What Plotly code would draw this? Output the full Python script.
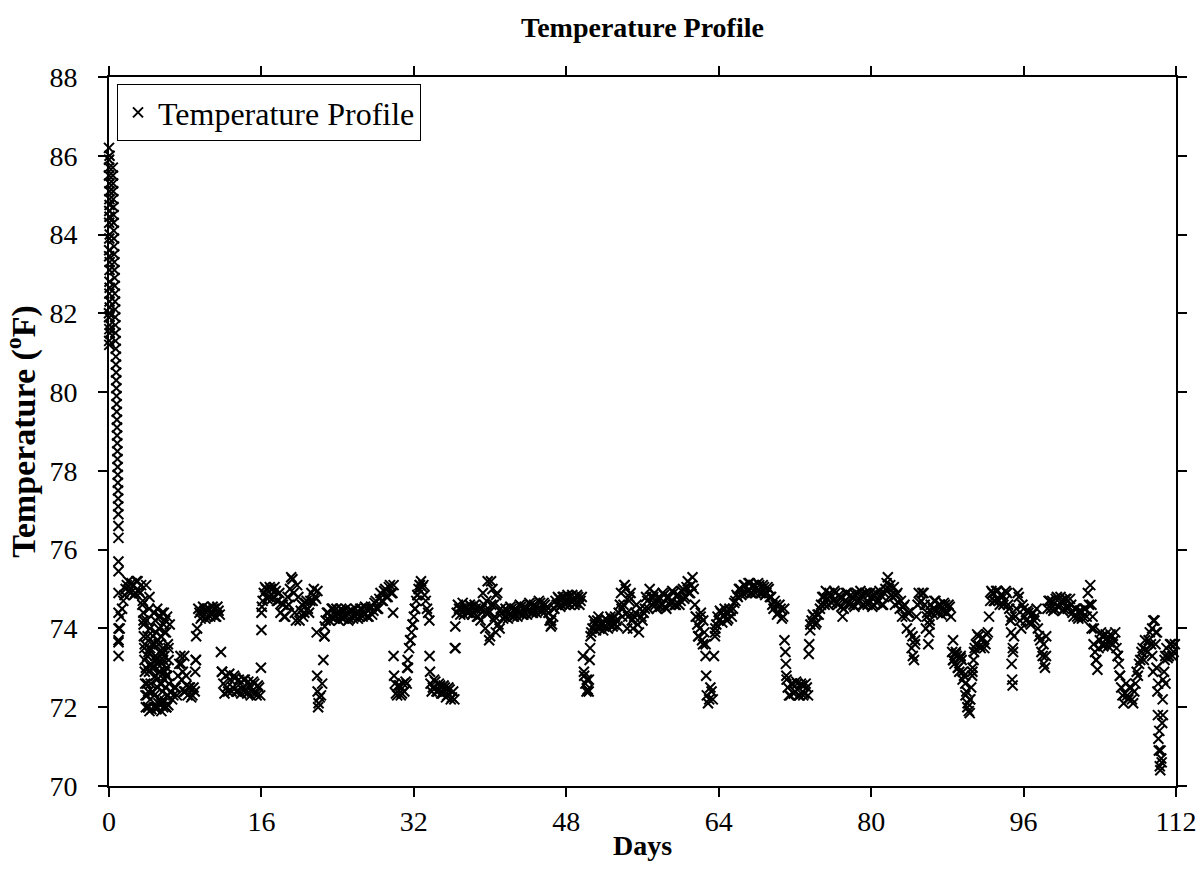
import plotly.graph_objects as go

# ---- start-up spike (day ~0-1) ----
spike_days = [0.00, 0.01, 0.02, 0.03, 0.04, 0.05, 0.06, 0.07, 0.08, 0.00,
              0.01, 0.02, 0.03, 0.04, 0.05, 0.06, 0.07, 0.08, 0.02, 0.04,
              0.06, 0.01, 0.03, 0.05, 0.07, 0.00, 0.02, 0.04, 0.06, 0.08,
              0.40, 0.41, 0.43, 0.44, 0.45, 0.47, 0.48, 0.49, 0.51, 0.52,
              0.53, 0.55, 0.56, 0.57, 0.59, 0.60, 0.61, 0.63, 0.64, 0.65,
              0.67, 0.68, 0.69, 0.71, 0.72, 0.73, 0.75, 0.76, 0.77, 0.79,
              0.80, 0.81, 0.83, 0.84, 0.85, 0.87, 0.88, 0.89, 0.91, 0.92,
              0.93, 0.95, 0.96, 0.97, 0.98,
              0.99, 0.99, 0.99, 1.00, 1.00, 1.00, 1.00, 1.00, 1.00]
spike_temps = [86.2, 85.9, 81.3, 84.6, 82.5, 85.3, 83.1, 81.7, 84.0, 82.0,
               85.7, 83.6, 81.2, 84.9, 82.8, 86.0, 83.3, 81.5, 84.3, 85.1,
               82.3, 81.9, 83.9, 84.45, 82.65, 85.5, 83.45, 81.6, 84.75, 82.15,
               85.7, 85.5, 85.3, 85.1, 84.9, 84.7, 84.5, 84.3, 84.1, 83.9,
               83.7, 83.5, 83.3, 83.1, 82.9, 82.7, 82.5, 82.3, 82.1, 81.9,
               81.7, 81.5, 81.3, 81.1, 80.9, 80.7, 80.5, 80.3, 80.1, 79.9,
               79.7, 79.5, 79.3, 79.1, 78.9, 78.7, 78.5, 78.3, 78.1, 77.9,
               77.7, 77.5, 77.3, 77.1, 76.9,
               76.6, 76.3, 75.7, 75.45, 74.9, 74.4, 74.0, 73.65, 73.3]

# ---- main record: one reading every 0.125 day from day 1.0 ----
main_start = 1.0
main_step = 0.125
main_temps = [
    73.7, 74.0, 74.3, 74.5, 74.7, 74.85, 75.0, 75.1,        # day 1
    75.2, 74.95, 74.9, 75.15, 75.1, 74.85, 74.9, 75.2,      # day 2
    75.2, 74.95, 74.9, 75.1, 74.6, 74.2, 73.6, 73.0,        # day 3
    72.3, 72.0, 71.9, 72.6, 73.0, 73.8, 74.4, 73.2,         # day 4
    72.0, 73.1, 74.3, 72.6, 72.1, 73.4, 74.4, 72.9,         # day 5
    72.0, 72.8, 73.5, 74.1, 72.4, 72.2, 72.3, 72.5,         # day 6
    72.5, 72.3, 72.8, 73.1, 73.3, 72.7, 72.9, 72.4,         # day 7
    72.4, 72.55, 72.3, 72.5, 72.5, 72.25, 72.3, 72.5,       # day 8
    72.4, 73.2, 74.0, 74.5, 74.4, 74.25, 74.3, 74.55,       # day 9
    74.45, 74.25, 74.3, 74.5, 74.5, 74.3, 74.35, 74.55,     # day 10
    74.5, 74.3, 74.3, 74.55, 74.45, 74.35, 73.4, 72.9,      # day 11
    72.6, 72.35, 72.8, 72.5, 72.4, 72.85, 72.7, 72.4,       # day 12
    72.5, 72.8, 72.75, 72.4, 72.4, 72.7, 72.6, 72.35,       # day 13
    72.45, 72.7, 72.7, 72.4, 72.35, 72.65, 72.55, 72.3,     # day 14
    72.4, 72.65, 72.6, 72.35, 72.3, 72.55, 72.5, 72.3,      # day 15
    74.4, 74.7, 74.9, 75.05, 75.0, 74.75, 74.8, 75.05,      # day 16
    75.0, 74.75, 74.8, 75.05, 74.95, 74.7, 74.7, 74.9,      # day 17
    74.4, 74.65, 74.6, 74.3, 74.3, 74.55, 74.8, 74.6,       # day 18
    75.0, 75.3, 75.25, 74.9, 74.4, 74.2, 75.1, 74.8,        # day 19
    74.2, 74.45, 74.6, 74.3, 74.4, 74.65, 74.7, 74.5,       # day 20
    74.4, 74.7, 74.9, 74.7, 75.0, 74.8, 74.75, 74.95,       # day 21
    72.1, 72.25, 72.3, 72.6, 73.2, 73.8, 74.2, 74.4,        # day 22
    74.4, 74.2, 74.3, 74.5, 74.5, 74.25, 74.35, 74.5,       # day 23
    74.4, 74.2, 74.3, 74.5, 74.45, 74.25, 74.3, 74.5,       # day 24
    74.4, 74.2, 74.25, 74.45, 74.45, 74.25, 74.3, 74.5,     # day 25
    74.4, 74.25, 74.3, 74.5, 74.5, 74.3, 74.35, 74.55,      # day 26
    74.5, 74.3, 74.3, 74.5, 74.55, 74.35, 74.45, 74.65,     # day 27
    74.7, 74.5, 74.5, 74.75, 74.9, 74.7, 74.7, 74.95,       # day 28
    75.0, 74.8, 74.8, 75.05, 75.1, 74.9, 74.9, 75.1,        # day 29
    72.6, 72.35, 72.3, 72.55, 72.55, 72.3, 72.35, 72.6,     # day 30
    72.4, 72.65, 72.6, 73.0, 73.5, 73.7, 73.9, 74.1,        # day 31
    74.3, 74.5, 74.7, 74.85, 75.0, 75.1, 75.2, 75.05,       # day 32
    75.1, 74.85, 74.7, 74.5, 74.4, 74.2, 72.6, 72.4,        # day 33
    72.5, 72.7, 72.65, 72.4, 72.4, 72.6, 72.55, 72.35,      # day 34
    72.35, 72.55, 72.5, 72.25, 72.3, 72.5, 72.45, 72.2,     # day 35
    72.25, 72.4, 72.2, 73.5, 74.4, 74.6, 74.5, 74.35,       # day 36
    74.5, 74.65, 74.35, 74.5, 74.55, 74.4, 74.4, 74.6,      # day 37
    74.55, 74.35, 74.4, 74.6, 74.5, 74.3, 74.3, 74.5,       # day 38
    74.2, 74.5, 74.9, 74.6, 74.0, 74.7, 75.2, 74.4,         # day 39
    73.8, 74.6, 75.0, 74.2, 74.3, 74.85, 74.9, 74.1,        # day 40
    74.0, 74.5, 74.4, 74.25, 74.3, 74.5, 74.45, 74.25,      # day 41
    74.35, 74.55, 74.5, 74.3, 74.3, 74.5, 74.45, 74.3,      # day 42
    74.4, 74.6, 74.55, 74.35, 74.35, 74.55, 74.5, 74.35,    # day 43
    74.45, 74.65, 74.6, 74.4, 74.4, 74.6, 74.55, 74.4,      # day 44
    74.5, 74.7, 74.65, 74.45, 74.45, 74.65, 74.6, 74.45,    # day 45
    74.55, 74.4, 74.2, 74.05, 74.1, 74.3, 74.5, 74.7,       # day 46
    74.6, 74.8, 74.75, 74.55, 74.6, 74.8, 74.8, 74.6,       # day 47
    74.65, 74.85, 74.8, 74.6, 74.7, 74.85, 74.75, 74.6,     # day 48
    74.65, 74.85, 74.8, 74.6, 74.7, 74.8, 73.3, 72.8,       # day 49
    72.6, 72.4, 72.45, 72.7, 73.5, 73.9, 74.0, 74.2,        # day 50
    74.1, 73.95, 74.2, 74.3, 74.0, 74.1, 74.15, 73.95,      # day 51
    74.05, 74.25, 74.2, 74.0, 74.1, 74.3, 74.25, 74.05,     # day 52
    74.1, 74.3, 74.2, 74.05, 74.4, 74.6, 74.9, 74.3,        # day 53
    74.6, 75.1, 75.0, 74.4, 74.3, 74.8, 74.9, 74.2,         # day 54
    74.0, 74.3, 74.4, 74.6, 74.1, 73.9, 74.5, 74.3,         # day 55
    74.2, 74.4, 74.5, 74.8, 74.7, 74.5, 75.0, 74.8,         # day 56
    74.6, 74.8, 74.9, 74.6, 74.5, 74.75, 74.8, 74.55,       # day 57
    74.6, 74.9, 74.85, 74.55, 74.5, 74.8, 74.8, 74.6,       # day 58
    74.65, 74.95, 74.9, 74.6, 74.6, 74.85, 74.85, 74.6,     # day 59
    74.7, 74.95, 75.0, 74.75, 74.8, 75.05, 75.2, 74.9,      # day 60
    74.9, 75.1, 75.3, 75.0, 74.6, 74.3, 74.1, 73.8,         # day 61
    74.0, 74.4, 73.7, 74.2, 73.9, 73.6, 72.3, 72.1,         # day 62
    72.2, 72.5, 72.4, 72.2, 73.3, 73.9, 74.1, 74.3,         # day 63
    74.2, 74.45, 74.4, 74.15, 74.3, 74.5, 74.4, 74.2,       # day 64
    74.25, 74.5, 74.45, 74.3, 74.5, 74.65, 74.7, 74.85,     # day 65
    74.8, 75.0, 75.0, 74.85, 74.9, 75.1, 75.1, 74.9,        # day 66
    74.95, 75.15, 75.15, 74.9, 74.9, 75.1, 75.1, 74.9,      # day 67
    74.95, 75.15, 75.1, 74.9, 74.9, 75.1, 75.05, 74.85,     # day 68
    74.9, 75.05, 75.0, 74.8, 74.8, 74.6, 74.5, 74.7,        # day 69
    74.6, 74.35, 74.4, 74.6, 74.5, 74.25, 74.3, 74.5,       # day 70
    73.4, 72.7, 72.5, 72.3, 72.3, 72.6, 72.6, 72.35,        # day 71
    72.4, 72.65, 72.6, 72.3, 72.3, 72.6, 72.55, 72.3,       # day 72
    72.35, 72.6, 72.5, 72.3, 73.6, 74.1, 74.2, 74.35,       # day 73
    74.3, 74.1, 74.15, 74.35, 74.35, 74.5, 74.6, 74.8,      # day 74
    74.8, 74.6, 74.95, 74.75, 74.6, 74.9, 74.85, 74.65,     # day 75
    74.7, 74.95, 74.9, 74.65, 74.6, 74.85, 74.8, 74.55,     # day 76
    74.3, 74.5, 74.7, 74.9, 74.9, 74.65, 74.6, 74.85,       # day 77
    74.8, 74.6, 74.55, 74.85, 74.9, 74.65, 74.7, 74.95,     # day 78
    74.85, 74.6, 74.6, 74.9, 74.9, 74.6, 74.65, 74.9,       # day 79
    74.8, 74.55, 74.6, 74.85, 74.9, 74.65, 74.7, 74.95,     # day 80
    74.85, 74.6, 74.6, 74.9, 75.0, 75.15, 75.3, 75.0,       # day 81
    75.1, 74.85, 74.8, 75.05, 74.6, 74.85, 74.9, 74.65,     # day 82
    74.5, 74.7, 74.3, 74.55, 74.6, 74.3, 74.0, 74.4,        # day 83
    74.4, 73.9, 73.5, 73.3, 73.2, 73.7, 74.3, 74.6,         # day 84
    74.9, 74.65, 74.7, 74.9, 74.9, 74.6, 74.0, 74.4,        # day 85
    73.6, 74.1, 74.6, 74.4, 74.5, 74.7, 74.7, 74.45,        # day 86
    74.4, 74.6, 74.6, 74.35, 74.45, 74.65, 74.6, 74.4,      # day 87
    74.4, 74.6, 74.55, 74.3, 73.4, 73.2, 73.1, 73.35,       # day 88
    73.3, 73.0, 72.9, 73.25, 73.2, 72.9, 72.8, 72.6,        # day 89
    72.4, 72.1, 71.9, 72.2, 72.5, 72.9, 73.2, 73.5,         # day 90
    73.6, 73.85, 73.8, 73.55, 73.5, 73.75, 73.75, 73.5,     # day 91
    73.6, 73.85, 73.9, 74.3, 74.7, 74.95, 74.9, 74.7,       # day 92
    74.7, 74.95, 74.95, 74.7, 74.6, 74.85, 74.85, 74.6,     # day 93
    74.7, 74.95, 74.9, 74.6, 74.5, 74.2, 74.3, 73.5,        # day 94
    73.8, 74.3, 74.5, 74.9, 74.8, 74.2, 74.0, 74.6,         # day 95
    74.5, 74.3, 74.2, 74.45, 74.4, 74.15, 74.1, 74.35,      # day 96
    74.4, 74.2, 74.3, 74.5, 74.0, 73.8, 73.7, 73.4,         # day 97
    73.3, 73.1, 73.0, 73.8, 74.5, 74.7, 74.7, 74.5,         # day 98
    74.7, 74.45, 74.5, 74.75, 74.8, 74.55, 74.55, 74.8,     # day 99
    74.7, 74.45, 74.5, 74.75, 74.75, 74.5, 74.55, 74.75,    # day 100
    74.6, 74.4, 74.3, 74.5, 74.5, 74.3, 74.25, 74.45,       # day 101
    74.45, 74.25, 74.3, 74.5, 74.5, 74.3, 74.9, 74.6,       # day 102
    75.1, 74.6, 74.3, 74.0, 73.4, 73.2, 72.95, 73.5,        # day 103
    73.7, 73.9, 73.8, 73.55, 73.6, 73.85, 73.75, 73.55,     # day 104
    73.65, 73.85, 73.8, 73.6, 73.7, 73.9, 73.5, 73.3,       # day 105
    73.1, 72.8, 72.5, 72.3, 72.1, 72.35, 72.6, 72.3,        # day 106
    72.2, 72.5, 72.5, 72.2, 72.1, 72.4, 72.6, 72.9,         # day 107
    72.8, 73.1, 73.2, 73.4, 73.5, 73.2, 73.7, 73.45,        # day 108
    73.4, 73.7, 73.9, 73.6, 74.0, 74.2, 74.2, 73.9,         # day 109
    73.9, 72.6, 71.4, 70.9, 70.6, 71.8, 72.9, 73.3,         # day 110
    73.5, 73.25, 73.3, 73.6, 73.6, 73.3, 73.4, 73.6,        # day 111
]

# ---- extra readings in fast-changing stretches ----
extra_days = [
    3.55, 3.60, 3.63, 3.66, 3.70, 3.73, 3.76, 3.80, 3.83, 3.87,
    3.90, 3.95, 4.00, 4.02, 4.05, 4.10, 4.12, 4.15, 4.20, 4.22,
    4.25, 4.30, 4.32, 4.35, 4.40, 4.45, 4.50, 4.55,
    4.70, 4.74, 4.78, 4.82, 4.86, 4.90, 4.94, 4.98, 5.02, 5.06,
    5.10, 5.14, 5.18, 5.22, 5.26, 5.30, 5.34, 5.38, 5.42, 5.46,
    5.50, 5.54, 5.58, 5.62, 5.66, 5.70, 5.74, 5.78, 5.82, 5.86,
    5.90, 5.94, 5.98, 6.02, 6.06, 6.10, 6.14, 6.18, 6.22, 6.26, 6.30,
    4.72, 4.88, 5.04, 5.20, 5.36, 5.52, 5.68, 5.84, 6.00, 6.16,
    7.60, 7.90, 8.10,
    9.05, 9.10, 9.15, 11.85,
    15.95, 16.00, 16.05,
    21.80, 21.85, 21.90, 21.95, 22.60, 22.65,
    29.82, 29.87, 29.92,
    31.30, 31.35, 31.62, 31.88, 32.12, 32.38, 32.62,
    33.65, 33.70, 36.30, 36.35,
    39.60, 39.90, 40.10, 40.40, 40.60, 46.40,
    49.85, 50.15, 50.35, 50.45, 50.55,
    53.80, 54.10, 54.40, 54.60,
    61.10, 61.60, 61.85, 62.10, 62.35, 62.62, 62.68, 63.60, 63.65,
    70.90, 71.05, 71.10, 73.45, 73.60,
    84.35, 84.60, 85.85, 86.10, 86.15, 88.60,
    88.60, 88.90, 89.10, 89.40, 89.60, 89.90, 90.10, 90.35, 90.40, 90.60,
    90.65, 90.80,
    94.70, 94.75, 94.80, 94.85, 94.90,
    98.10, 98.35, 103.15, 103.35, 103.60, 105.90, 106.10,
    109.50, 109.60, 109.85, 109.95, 110.05, 110.10, 110.15, 110.20, 110.30, 110.35,
    110.45, 110.55, 110.60, 110.65, 110.80, 110.90,
]
extra_temps = [
    74.7, 74.4, 74.1, 73.8, 73.5, 73.2, 72.9, 72.6, 72.3, 72.0,
    75.1, 74.2, 72.6, 73.3, 73.8, 72.0, 72.4, 73.4, 72.9, 74.5,
    74.8, 74.0, 73.5, 72.2, 73.1, 71.95, 73.6, 72.4,
    74.4, 72.3, 73.6, 72.0, 74.2, 72.8, 73.9, 71.95, 73.2, 74.5,
    72.5, 73.7, 72.1, 74.0, 72.9, 73.4, 72.2, 74.3, 72.6, 73.8,
    71.9, 73.1, 74.4, 72.4, 73.5, 72.0, 74.1, 72.7, 73.3, 72.15,
    74.2, 72.5, 73.9, 72.0, 73.0, 74.3, 72.3, 73.6, 72.05, 73.2, 72.6,
    73.0, 73.3, 72.7, 73.6, 72.9, 72.6, 73.2, 73.9, 72.8, 72.3,
    73.1, 73.3, 72.8,
    72.9, 73.2, 73.8, 72.9,
    73.0, 73.96, 74.55,
    73.9, 72.8, 72.4, 72.0, 73.8, 74.05,
    74.4, 73.3, 72.8,
    73.0, 73.2, 73.7, 74.1, 74.5, 74.85, 75.1,
    73.3, 72.9, 73.5, 74.05,
    74.4, 73.7, 75.2, 74.6, 73.9, 74.2,
    72.9, 72.7, 72.4, 73.2, 73.8,
    74.5, 75.1, 74.0, 74.7,
    75.1, 74.3, 73.8, 74.3, 73.6, 73.3, 72.8, 73.8, 74.0,
    73.7, 73.1, 72.8, 73.35, 73.95,
    73.8, 73.6, 74.3, 73.9, 74.2, 73.7,
    73.2, 73.4, 73.0, 73.3, 72.7, 72.3, 72.0, 71.85, 72.2, 72.8,
    73.0, 73.4,
    73.9, 73.1, 72.7, 72.55, 73.4,
    73.6, 73.3, 74.0, 73.6, 73.2, 73.3, 72.8,
    73.3, 72.9, 73.6, 73.0, 72.4, 71.8, 71.2, 70.9, 70.5, 70.4,
    70.7, 71.6, 72.2, 72.7, 73.2, 72.6,
]

x_ticks = [0, 16, 32, 48, 64, 80, 96, 112]
y_ticks = [70, 72, 74, 76, 78, 80, 82, 84, 86, 88]

main_days = [main_start + main_step * i for i in range(len(main_temps))]
all_days = spike_days + main_days + extra_days
all_temps = spike_temps + main_temps + extra_temps

FONT = "Liberation Serif"

fig = go.Figure()
fig.add_trace(go.Scatter(
    x=all_days, y=all_temps, mode="markers", name="Temperature Profile",
    cliponaxis=False,
    marker=dict(symbol="x-thin", size=10, color="black",
                line=dict(width=2, color="black")),
))

axis_common = dict(
    showline=True, linewidth=2, linecolor="black", mirror="ticks",
    ticks="outside", ticklen=9, tickwidth=2, tickcolor="black",
    showgrid=False, zeroline=False, automargin=False,
    tickfont=dict(family=FONT, size=28, color="black"),
)

fig.update_layout(
    width=1201, height=876,
    margin=dict(l=109, r=25, t=77, b=90),
    paper_bgcolor="white", plot_bgcolor="white",
    font=dict(family=FONT, color="black"),
    title=dict(text="<b>Temperature Profile</b>", x=0.5, xref="paper",
               y=1 - 27 / 876, yref="container", yanchor="middle", xanchor="center",
               font=dict(family=FONT, size=28, color="black")),
    showlegend=True,
    legend=dict(x=0.0075, y=0.99, xanchor="left", yanchor="top",
                bordercolor="black", borderwidth=1, bgcolor="white",
                font=dict(family=FONT, size=32, color="black")),
    xaxis=dict(range=[0, 112], tickvals=x_ticks,
               title=dict(text="<b>Days</b>", standoff=0,
                          font=dict(family=FONT, size=28, color="black")),
               **axis_common),
    yaxis=dict(range=[70, 88], tickvals=y_ticks, ticklabelstandoff=15,
               title=dict(text="<b>Temperature (<sup>o</sup>F)</b>", standoff=14,
                          font=dict(family=FONT, size=34, color="black")),
               **axis_common),
)

fig.write_html("out.html", config={"displayModeBar": False},
               post_script="document.body.style.margin='0px';")
